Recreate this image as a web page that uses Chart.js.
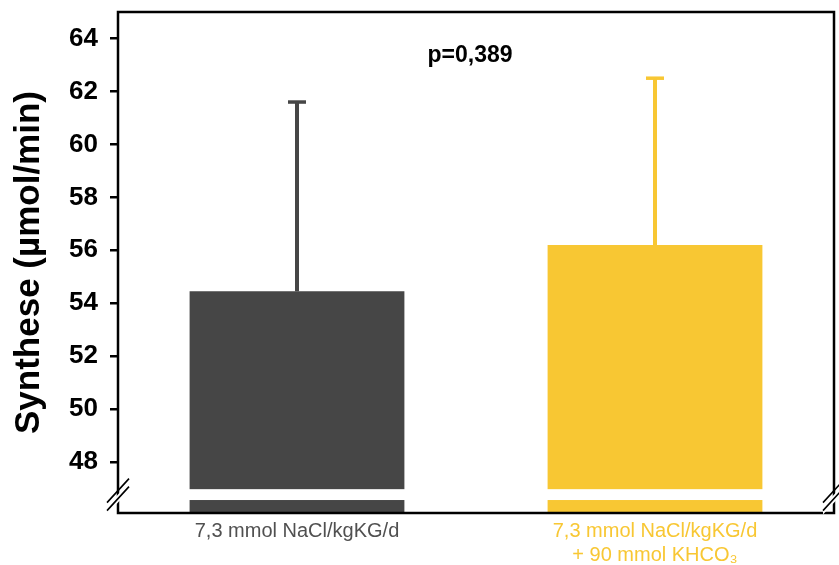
<!DOCTYPE html>
<html lang="de">
<head>
  <meta charset="UTF-8">
  <title>Synthese</title>
  <script src="https://cdn.jsdelivr.net/npm/chart.js@4.4.3/dist/chart.umd.min.js"></script>
  <style>
    html, body { margin: 0; padding: 0; background: #fff; }
    #wrap { width: 839px; height: 565px; }
  </style>
</head>
<body>
  <div id="wrap"><canvas id="chart" width="839" height="565"></canvas></div>
  <script>
    // data
    const groups = [
      ["7,3 mmol NaCl/kgKG/d"],
      ["7,3 mmol NaCl/kgKG/d", "+ 90 mmol KHCO\u2083"]
    ];
    const means = [54.45, 56.2];
    const upperErr = [61.6, 62.5];
    const barColors = ["#464646", "#F8C733"];
    const labelColors = ["#505050", "#F8C733"];
    const yTicks = [48, 50, 52, 54, 56, 58, 60, 62, 64];
    const pLabel = "p=0,389";
    const axisBreak = [46.57, 46.98]; // white gap for the broken axis

    const FONT = "'Liberation Sans', Arial, sans-serif";

    // frame, error bars, axis break, p value
    const extras = {
      id: "extras",
      afterDatasetsDraw(chart) {
        const { ctx, chartArea: a, scales: { y } } = chart;
        const meta = chart.getDatasetMeta(0);

        // error bars (upper only)
        meta.data.forEach((bar, i) => {
          const yTop = y.getPixelForValue(upperErr[i]);
          ctx.save();
          ctx.strokeStyle = barColors[i];
          ctx.lineWidth = 4;
          ctx.beginPath();
          ctx.moveTo(bar.x, bar.y);
          ctx.lineTo(bar.x, yTop);
          ctx.stroke();
          ctx.lineWidth = 3.5;
          ctx.beginPath();
          ctx.moveTo(bar.x - 9, yTop);
          ctx.lineTo(bar.x + 9, yTop);
          ctx.stroke();
          ctx.restore();
        });

        // white break across the bars
        const b1 = y.getPixelForValue(axisBreak[1]);
        const b0 = y.getPixelForValue(axisBreak[0]);
        ctx.save();
        ctx.fillStyle = "#fff";
        ctx.fillRect(a.left + 2, b1, a.right - a.left - 4, b0 - b1);
        ctx.restore();

        // p value
        ctx.save();
        ctx.fillStyle = "#000";
        ctx.font = "bold 23px " + FONT;
        ctx.textAlign = "center";
        ctx.textBaseline = "middle";
        ctx.fillText(pLabel, (a.left + a.right) / 2 - 6, y.getPixelForValue(63.36));
        ctx.restore();
      },
      afterDraw(chart) {
        const { ctx, chartArea: a, scales: { y } } = chart;
        ctx.save();
        ctx.strokeStyle = "#000";
        ctx.lineWidth = 2.5;
        ctx.strokeRect(a.left, a.top, a.right - a.left, a.bottom - a.top);

        // break slashes on both side axes
        const mid = (y.getPixelForValue(axisBreak[0]) + y.getPixelForValue(axisBreak[1])) / 2;
        [a.left, a.right].forEach(px => {
          ctx.fillStyle = "#fff";
          ctx.beginPath();
          ctx.moveTo(px - 11, mid + 8 + 4);
          ctx.lineTo(px + 11, mid - 16 + 4);
          ctx.lineTo(px + 11, mid - 8 + 4);
          ctx.lineTo(px - 11, mid + 16 + 4);
          ctx.closePath();
          ctx.fill();
          ctx.lineWidth = 1.6;
          ctx.beginPath();
          ctx.moveTo(px - 11, mid + 8);
          ctx.lineTo(px + 11, mid - 16);
          ctx.moveTo(px - 11, mid + 16);
          ctx.lineTo(px + 11, mid - 8);
          ctx.stroke();
        });
        ctx.restore();
      }
    };

    new Chart(document.getElementById("chart"), {
      type: "bar",
      data: {
        labels: groups,
        datasets: [{
          data: means,
          backgroundColor: barColors,
          borderWidth: 0,
          barPercentage: 0.6,
          categoryPercentage: 1.0
        }]
      },
      options: {
        responsive: false,
        animation: false,
        layout: { padding: { top: 12, right: 5, left: 0, bottom: 0 } },
        plugins: { legend: { display: false }, tooltip: { enabled: false } },
        scales: {
          x: {
            grid: { display: false, drawTicks: false },
            border: { display: false },
            ticks: {
              padding: 6,
              color: ctx => labelColors[ctx.index],
              font: { family: FONT, size: 20, lineHeight: 1.2 }
            },
            afterFit: s => { s.height = 52; s.paddingLeft = 0; s.paddingRight = 0; }
          },
          y: {
            min: 46.08,
            max: 65,
            afterBuildTicks: s => { s.ticks = yTicks.map(v => ({ value: v })); },
            grid: { drawOnChartArea: false, drawTicks: true, tickLength: 8, color: "#000", lineWidth: 2.5 },
            border: { display: false },
            ticks: {
              padding: 12,
              color: "#000",
              font: { family: FONT, size: 26, weight: "bold" }
            },
            title: {
              display: true,
              text: "Synthese (\u00b5mol/min)",
              color: "#000",
              font: { family: FONT, size: 35, weight: "bold" },
              padding: { top: 8, bottom: 0 }
            },
            afterFit: s => { s.width = 118; s.paddingTop = 0; s.paddingBottom = 0; }
          }
        }
      },
      plugins: [extras]
    });
  </script>
</body>
</html>
